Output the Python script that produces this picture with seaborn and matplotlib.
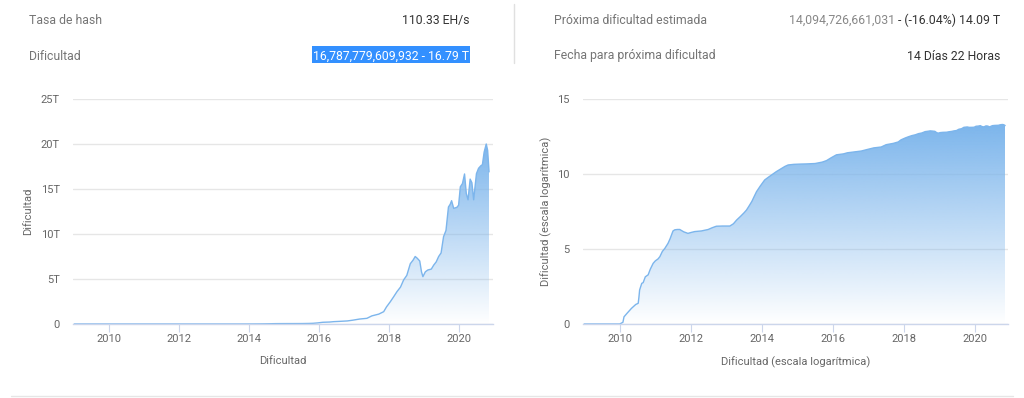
import numpy as np
import matplotlib
matplotlib.use("Agg")
import matplotlib.pyplot as plt
import matplotlib.colors as mcolors
from matplotlib.patches import Rectangle
from matplotlib.text import Annotation
from matplotlib.ticker import FuncFormatter
import seaborn as sns

# Bitcoin difficulty history (fractional years, raw difficulty)
years = [
    2009.0, 2010.0, 2010.09, 2010.12, 2010.2, 2010.33, 2010.45, 2010.52, 2010.54,
    2010.56, 2010.62, 2010.66, 2010.72, 2010.8, 2010.86, 2010.94, 2011.0, 2011.08,
    2011.13, 2011.2, 2011.27, 2011.36, 2011.42, 2011.46, 2011.5, 2011.55, 2011.62,
    2011.69, 2011.8, 2011.92, 2012.0, 2012.11, 2012.3, 2012.49, 2012.6, 2012.72,
    2012.9, 2013.1, 2013.2, 2013.29, 2013.4, 2013.5, 2013.57, 2013.65, 2013.72,
    2013.78, 2013.85, 2013.95, 2014.08, 2014.2, 2014.3, 2014.41, 2014.55, 2014.65,
    2014.74, 2014.9, 2015.1, 2015.26, 2015.5, 2015.7, 2015.82, 2015.95, 2016.1,
    2016.3, 2016.41, 2016.57, 2016.8, 2016.95, 2017.15, 2017.36, 2017.5, 2017.7,
    2017.84, 2017.92, 2018.03, 2018.12, 2018.22, 2018.32, 2018.41, 2018.5, 2018.6,
    2018.68, 2018.74, 2018.8, 2018.87, 2018.92, 2018.96, 2019.03, 2019.1, 2019.2,
    2019.27, 2019.34, 2019.41, 2019.48, 2019.55, 2019.62, 2019.69, 2019.74, 2019.78,
    2019.84, 2019.93, 2019.98, 2020.03, 2020.09, 2020.15, 2020.2, 2020.25, 2020.31,
    2020.36, 2020.41, 2020.49, 2020.55, 2020.62, 2020.66, 2020.71, 2020.77, 2020.81,
    2020.85,
]
difficulty = [
    1.0, 1.0, 1.3, 3.0, 5.0, 11.0, 20.0, 24.0, 60.0,
    186.0, 512.0, 575.0, 1.4e3, 1.9e3, 4.5e3, 1.1e4, 1.6e4, 2.2e4,
    3.1e4, 6.9e4, 1.1e5, 2.4e5, 5.0e5, 9.0e5, 1.6e6, 1.9e6, 2.0e6,
    2.0e6, 1.4e6, 1.1e6, 1.25e6, 1.45e6, 1.6e6, 2.0e6, 2.6e6, 3.3e6,
    3.4e6, 3.4e6, 4.8e6, 8.5e6, 1.5e7, 2.6e7, 4.0e7, 8.0e7, 1.5e8,
    3.0e8, 6.6e8, 1.5e9, 4.0e9, 6.5e9, 9.5e9, 1.45e10, 2.3e10, 3.2e10,
    4.0e10, 4.4e10, 4.6e10, 4.7e10, 5.0e10, 6.2e10, 7.8e10, 1.2e11, 1.9e11,
    2.2e11, 2.6e11, 2.9e11, 3.4e11, 4.2e11, 5.5e11, 6.3e11, 9.0e11, 1.1e12,
    1.37e12, 1.9e12, 2.48e12, 3.0e12, 3.6e12, 4.1e12, 4.9e12, 5.4e12, 6.7e12,
    7.1e12, 7.5e12, 7.3e12, 7.0e12, 5.8e12, 5.26e12, 5.8e12, 6.0e12, 6.1e12,
    6.55e12, 6.9e12, 7.5e12, 7.9e12, 9.7e12, 10.4e12, 13.0e12, 13.3e12, 13.7e12,
    12.85e12, 12.96e12, 13.2e12, 15.25e12, 15.6e12, 16.67e12, 14.5e12, 13.8e12, 16.1e12,
    15.7e12, 13.8e12, 16.7e12, 17.3e12, 17.6e12, 17.7e12, 19.1e12, 20.0e12, 19.3e12,
    16.9e12,
]

year_ticks = [2010, 2012, 2014, 2016, 2018, 2020]
left_yticks = [0, 5e12, 10e12, 15e12, 20e12, 25e12]
right_yticks = [0, 5, 10, 15]

header_left = [("Tasa de hash", "110.33 EH/s"), ("Dificultad", "16,787,779,609,932 - 16.79 T")]
header_right_labels = ["Próxima dificultad estimada", "Fecha para próxima dificultad"]
next_diff_raw = "14,094,726,661,031"
next_diff_rest = " - (-16.04%) 14.09 T"
next_date = "14 Días 22 Horas"

W, H = 1024, 398
SERIES = "#7cb5ec"
GRID = "#e6e6e6"
AXIS = "#ccd6eb"
LABEL = "#666666"
HEAD = 8.8
ROW_BASE = [24, 59.5]

sns.set_theme(style="white")
plt.rcParams["font.family"] = ["Roboto", "DejaVu Sans"]


def fx(px):
    return px / W


def fy(py):
    return 1 - py / H


def gradient_area(ax, x, y):
    x = np.asarray(x)
    y = np.asarray(y)
    grad = np.zeros((256, 1, 4))
    grad[:, :, :3] = mcolors.to_rgb(SERIES)
    grad[:, 0, 3] = np.linspace(1.0, 0.0, 256)
    poly = ax.fill_between(x, y, 0, facecolor="none", lw=0)
    im = ax.imshow(grad, aspect="auto", origin="upper",
                   extent=[x.min(), x.max(), 0, y.max()], zorder=1)
    im.set_clip_path(poly.get_paths()[0], transform=ax.transData)
    sns.lineplot(x=x, y=y, ax=ax, color=SERIES, lw=1, zorder=2)


def style_axes(ax, xlim, ylim, yticks, xlabel, ylabel, ylabel_x):
    ax.set_xlim(*xlim)
    ax.set_ylim(*ylim)
    ax.set_xticks(year_ticks)
    ax.set_yticks(yticks)
    for s in ["top", "right", "left"]:
        ax.spines[s].set_visible(False)
    ax.spines["bottom"].set_color(AXIS)
    ax.spines["bottom"].set_linewidth(1)
    ax.grid(axis="y", color=GRID, lw=1)
    ax.grid(axis="x", visible=False)
    ax.set_axisbelow(True)
    ax.tick_params(axis="x", bottom=True, length=5.5, width=0.8, color=AXIS,
                   labelsize=8, labelcolor=LABEL, pad=1.5)
    ax.tick_params(axis="y", left=False, length=0, labelsize=8, labelcolor=LABEL, pad=9.5)
    ax.set_xlabel(xlabel, fontsize=8, color=LABEL, labelpad=9)
    ax.set_ylabel(ylabel, fontsize=8, color=LABEL)
    ax.yaxis.set_label_coords(ylabel_x, 0.5)


fig = plt.figure(figsize=(W / 100, H / 100), dpi=100)
fig.patch.set_facecolor("white")

ax1 = fig.add_axes([fx(73), fy(324), fx(493 - 73), (324 - 99) / H])
ax2 = fig.add_axes([fx(583), fy(324), fx(1008 - 583), (324 - 99) / H])

gradient_area(ax1, years, difficulty)
style_axes(ax1, (2008.963, 2020.963), (0, 25e12), left_yticks, "Dificultad", "Dificultad",
           (33 - 73) / 420)
ax1.yaxis.set_major_formatter(FuncFormatter(lambda v, _: "0" if v == 0 else f"{v / 1e12:.0f}T"))

gradient_area(ax2, years, np.log10(difficulty))
style_axes(ax2, (2008.966, 2020.93), (0, 15), right_yticks,
           "Dificultad (escala logarítmica)", "Dificultad (escala logarítmica)",
           (551.5 - 583) / 425)

# header block (selected value has the browser's highlight behind it)
fig.add_artist(Rectangle((fx(311.5), fy(63)), fx(470 - 311.5), 17 / H,
                         transform=fig.transFigure, fc="#3390ff", ec="none"))
for i, (lab, val) in enumerate(header_left):
    y = fy(ROW_BASE[i])
    fig.text(fx(29), y, lab, fontsize=HEAD, color="#757575", va="baseline", ha="left")
    fig.text(fx(469), y, val, fontsize=HEAD, color="white" if i == 1 else "#333333",
             va="baseline", ha="right")

for i, lab in enumerate(header_right_labels):
    fig.text(fx(554), fy(ROW_BASE[i]), lab, fontsize=HEAD, color="#757575",
             va="baseline", ha="left")

rest = fig.text(fx(1000), fy(ROW_BASE[0]), next_diff_rest, fontsize=HEAD, color="#333333",
                va="baseline", ha="right")
fig.add_artist(Annotation(next_diff_raw, xy=(0, 0), xycoords=rest, fontsize=HEAD,
                          color="#888888", va="bottom", ha="right"))
fig.text(fx(1000), fy(ROW_BASE[1]), next_date, fontsize=HEAD, color="#333333",
         va="baseline", ha="right")

# separators
fig.add_artist(plt.Line2D([fx(514), fx(514)], [fy(4), fy(63)], color="#e0e0e0", lw=1))
fig.add_artist(plt.Line2D([fx(11), fx(1013)], [fy(396), fy(396)], color="#e6e6e6", lw=1))

fig.savefig("out.png", dpi=100, facecolor="white")
